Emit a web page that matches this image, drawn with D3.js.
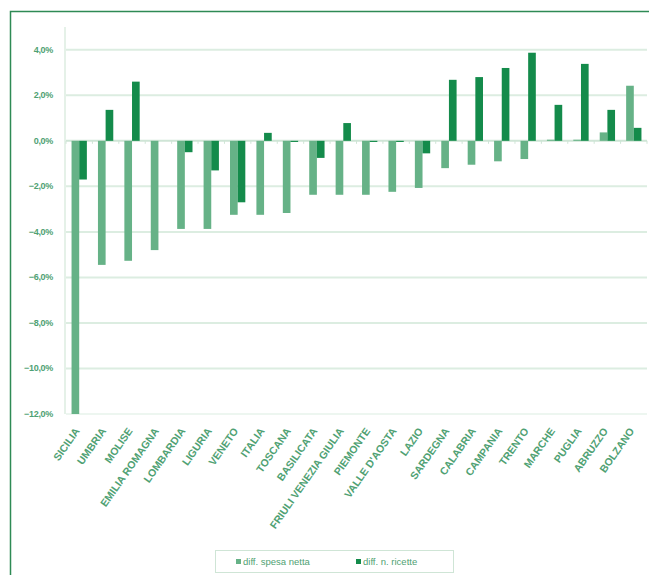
<!DOCTYPE html>
<html>
<head>
<meta charset="utf-8">
<script src="https://cdn.jsdelivr.net/npm/d3@7"></script>
<style>
  body { margin: 0; background: #fff; }
  svg { display: block; font-family: "Liberation Sans", Arial, sans-serif; }
</style>
</head>
<body>
<svg id="chart"></svg>
<script>
const regions = ["SICILIA", "UMBRIA", "MOLISE", "EMILIA ROMAGNA", "LOMBARDIA", "LIGURIA", "VENETO",
  "ITALIA", "TOSCANA", "BASILICATA", "FRIULI VENEZIA GIULIA", "PIEMONTE", "VALLE D'AOSTA", "LAZIO",
  "SARDEGNA", "CALABRIA", "CAMPANIA", "TRENTO", "MARCHE", "PUGLIA", "ABRUZZO", "BOLZANO"];

// diff. spesa netta (%)
const spesaNetta = [-12.0, -5.45, -5.27, -4.8, -3.87, -3.87, -3.25, -3.25, -3.17, -2.37, -2.37,
  -2.37, -2.24, -2.07, -1.2, -1.05, -0.9, -0.8, 0.05, 0.05, 0.37, 2.42];

// diff. n. ricette (%)
const nRicette = [-1.7, 1.36, 2.6, 0.0, -0.5, -1.3, -2.7, 0.35, -0.05, -0.75, 0.78,
  -0.05, -0.05, -0.55, 2.68, 2.8, 3.2, 3.87, 1.58, 3.38, 1.36, 0.57];

const yTicks = [4, 2, 0, -2, -4, -6, -8, -10, -12];
const seriesNames = ["diff. spesa netta", "diff. n. ricette"];
const colors = ["#66b287", "#148b4b"];

const width = 649, height = 575;
const svg = d3.select("#chart").attr("width", width).attr("height", height);

/* ---------------------------
   Cornice
--------------------------- */
svg.append("rect")
  .attr("x", 10.5).attr("y", 11.5)
  .attr("width", 700).attr("height", 600)
  .attr("fill", "none")
  .attr("stroke", "#2e8a55")
  .attr("stroke-width", 1.5);

const x0 = 66, x1 = 647;
const x = d3.scaleBand().domain(regions).range([x0, x1]).paddingInner(0).paddingOuter(0);
const y = d3.scaleLinear().domain([-12, 5]).range([414, 27]);

const g = svg.append("g");

/* ---------------------------
   Griglia
--------------------------- */
g.selectAll("line.grid")
  .data(yTicks)
  .enter()
  .append("line")
  .attr("class", "grid")
  .attr("x1", x0).attr("x2", x1)
  .attr("y1", d => y(d)).attr("y2", d => y(d))
  .attr("stroke", d => d === 0 ? "#cfe5d6" : "#dcede1")
  .attr("stroke-width", d => d === -12 ? 1.2 : 2);

// asse verticale
g.append("line")
  .attr("x1", x0 - 1).attr("x2", x0 - 1)
  .attr("y1", y(5)).attr("y2", y(-12))
  .attr("stroke", "#dcede1")
  .attr("stroke-width", 1.5);

// tacche sull'asse zero
g.selectAll("line.tick0")
  .data(regions.concat(["_end"]))
  .enter()
  .append("line")
  .attr("x1", (d, i) => x0 + i * x.bandwidth())
  .attr("x2", (d, i) => x0 + i * x.bandwidth())
  .attr("y1", y(0)).attr("y2", y(0) + 3)
  .attr("stroke", "#cfe5d6");

/* ---------------------------
   Barre
--------------------------- */
const bw = x.bandwidth() * 0.29;
const series = [spesaNetta, nRicette];

series.forEach((vals, s) => {
  g.selectAll("rect.s" + s)
    .data(vals)
    .enter()
    .append("rect")
    .attr("class", "s" + s)
    .attr("x", (d, i) => x(regions[i]) + x.bandwidth() / 2 - bw + s * bw)
    .attr("y", d => y(Math.max(0, d)))
    .attr("width", bw)
    .attr("height", d => Math.abs(y(d) - y(0)))
    .attr("fill", colors[s]);
});

/* ---------------------------
   Etichette
--------------------------- */
g.selectAll("text.ylab")
  .data(yTicks)
  .enter()
  .append("text")
  .attr("x", 53)
  .attr("y", d => y(d) + 3)
  .attr("text-anchor", "end")
  .attr("font-size", "9px")
  .attr("font-weight", "bold")
  .attr("fill", "#4fa173")
  .attr("letter-spacing", "-0.3px")
  .text(d => d3.format(".1f")(d).replace(".", ",") + "%");

g.selectAll("text.xlab")
  .data(regions)
  .enter()
  .append("text")
  .attr("transform", d => `translate(${x(d) + x.bandwidth() / 2 + 1},${y(-12) + 17}) rotate(-55)`)
  .attr("text-anchor", "end")
  .attr("font-size", "10.5px")
  .attr("font-weight", "bold")
  .attr("fill", "#4fa173")
  .text(d => d);

/* ---------------------------
   Legenda
--------------------------- */
const legend = svg.append("g");
legend.append("rect")
  .attr("x", 215.5).attr("y", 550.5)
  .attr("width", 238).attr("height", 22)
  .attr("fill", "#fff")
  .attr("stroke", "#cfe5d6");

const legendX = [236, 356];
seriesNames.forEach((name, i) => {
  legend.append("rect")
    .attr("x", legendX[i]).attr("y", 559)
    .attr("width", 5).attr("height", 5)
    .attr("fill", colors[i]);
  legend.append("text")
    .attr("x", legendX[i] + 7).attr("y", 565)
    .attr("font-size", "9.5px")
    .attr("fill", "#4fa173")
    .text(name);
});
</script>
</body>
</html>
